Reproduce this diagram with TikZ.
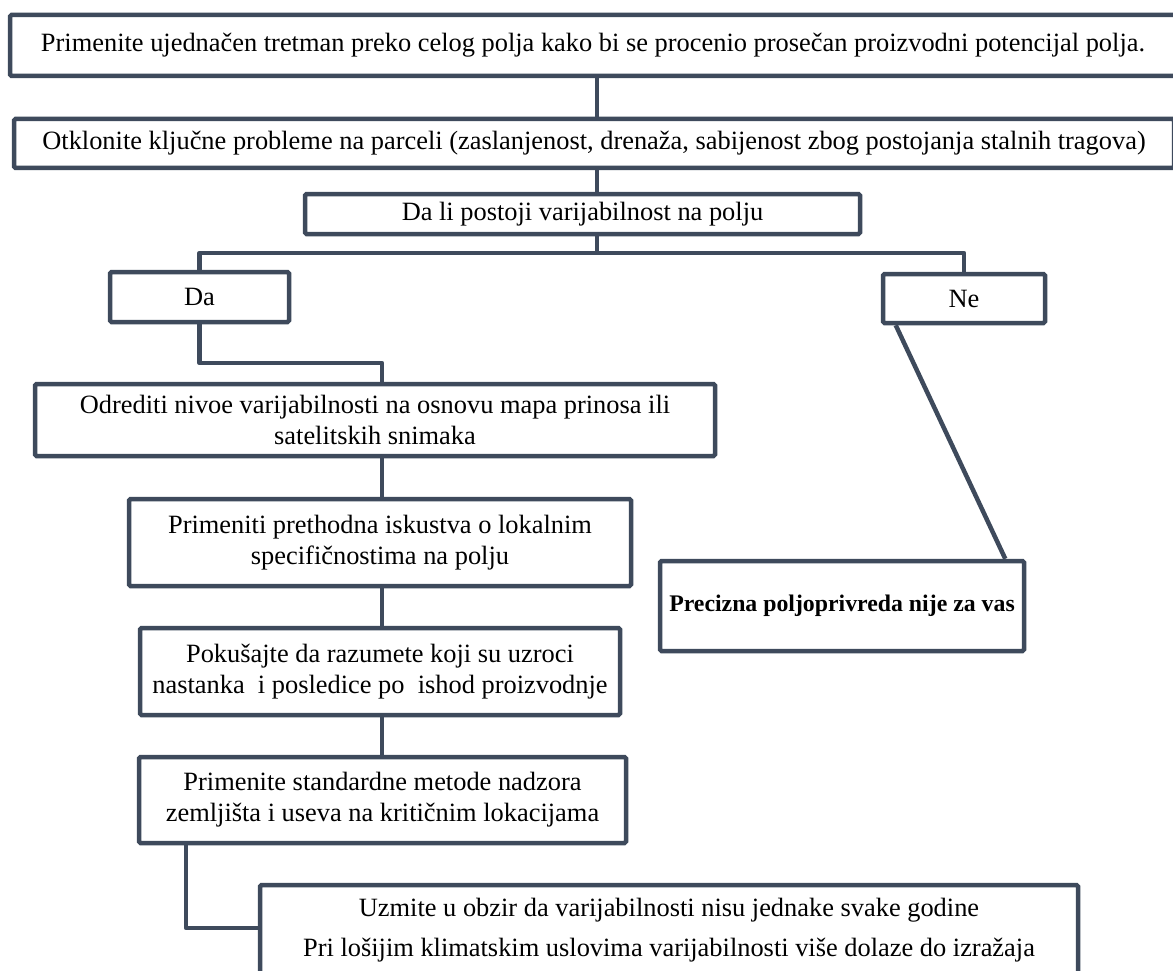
\documentclass[tikz,border=0pt]{standalone}
\usepackage{fontspec}
\setmainfont{Liberation Serif}
\usetikzlibrary{calc}
\definecolor{frame}{RGB}{62,74,92}
\begin{document}
\begin{tikzpicture}[x=1pt,y=-1pt,
  box/.style={draw=frame, line width=4.5pt, rounded corners=1.5pt, inner sep=0pt, align=center, text=black, font=\fontsize{26.4}{31}\selectfont},
  link/.style={draw=frame, line width=4.5pt, line join=round}]
\useasboundingbox (0,0) rectangle (1173,971);
\fill[white] (0,0) rectangle (1173,971);

\node[box, minimum width=1166pt, minimum height=61pt] (b1) at (593,45.5) {Primenite ujednačen tretman preko celog polja kako bi se procenio prosečan proizvodni potencijal polja.};
\node[box, minimum width=1160pt, minimum height=49pt] (b2) at (594,143.5) {Otklonite ključne probleme na parceli (zaslanjenost, drenaža, sabijenost zbog postojanja stalnih tragova)};
\node[box, minimum width=555pt, minimum height=40pt] (b3) at (582.5,214) {Da li postoji varijabilnost na polju};
\node[box, minimum width=179pt, minimum height=50pt] (da) at (199.5,297) {Da};
\node[box, minimum width=162pt, minimum height=49pt] (ne) at (964,298.5) {Ne};
\node[box, minimum width=680pt, minimum height=72pt] (odr) at (375,420) {Odrediti nivoe varijabilnosti na osnovu mapa prinosa ili\\satelitskih snimaka};
\node[box, minimum width=502pt, minimum height=87pt] (pri) at (380,542.5) {Primeniti prethodna iskustva o lokalnim\\specifičnostima na polju};
\node[box, minimum width=480pt, minimum height=87pt] (pok) at (380,671.5) {Pokušajte da razumete koji su uzroci\\nastanka\ \ i posledice po\ \ ishod proizvodnje};
\node[box, minimum width=487pt, minimum height=86pt] (std) at (382.5,800) {Primenite standardne metode nadzora\\zemljišta i useva na kritičnim lokacijama};
\node[box, minimum width=818pt, minimum height=90pt] (bot) at (669,930) {Uzmite u obzir da varijabilnosti nisu jednake svake godine\\[9pt]Pri lošijim klimatskim uslovima varijabilnosti više dolaze do izražaja};
\node[box, minimum width=364pt, minimum height=90pt, font=\fontsize{23.8}{31}\selectfont] (prec) at (842,606) {\textbf{Precizna poljoprivreda nije za vas}};

\coordinate (t) at (597,0);
\coordinate (br) at (597,253);
\coordinate (t2) at (382,0);
\coordinate (k) at (200,363);
\coordinate (c186) at (186,0);
\coordinate (c928) at (0,928);

\draw[link] (b1.south -| t) -- (b2.north -| t);
\draw[link] (b2.south -| t) -- (b3.north -| t);
\draw[link] (b3.south -| t) -- (br);
\draw[link] (da.north) |- (br) -| (ne.north);
\draw[link] (da.south) |- (k -| t2) -- (odr.north -| t2);
\draw[link] (odr.south -| t2) -- (pri.north -| t2);
\draw[link] (pri.south -| t2) -- (pok.north -| t2);
\draw[link] (pok.south -| t2) -- (std.north -| t2);
\draw[link] (std.south -| c186) |- (bot.west |- c928);
\draw[link] ($(ne.south west)+(15,0)$) -- ($(prec.north east)+(-21,0)$);
\end{tikzpicture}
\end{document}
